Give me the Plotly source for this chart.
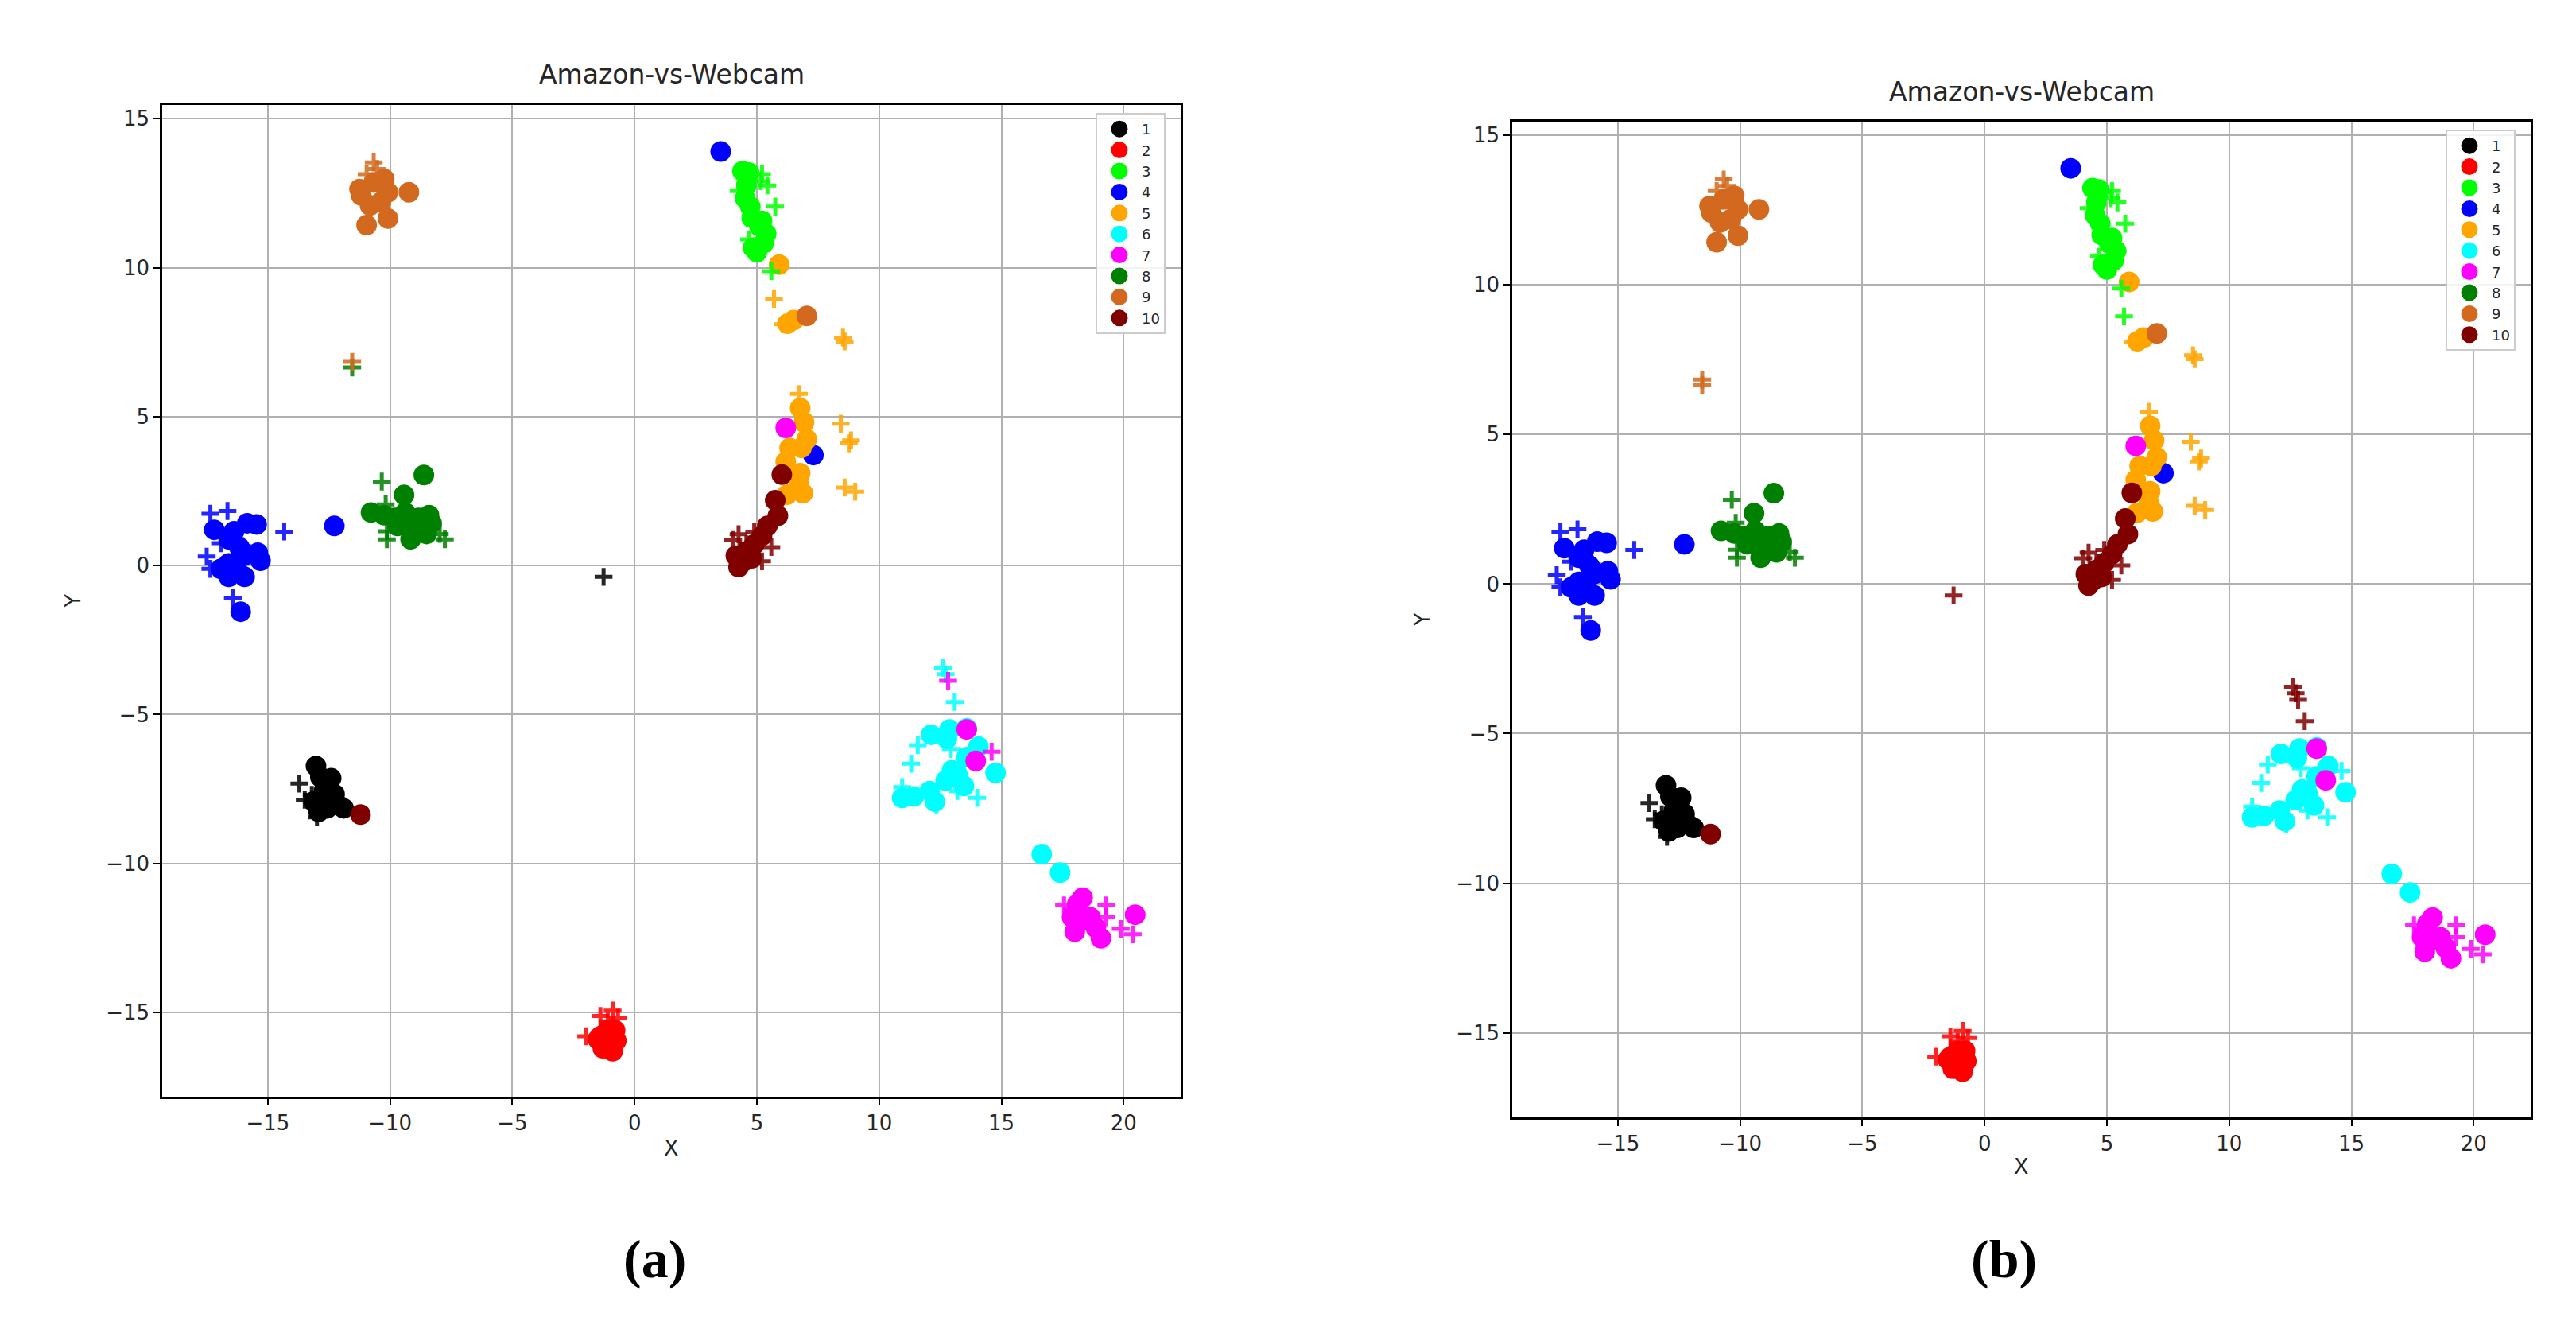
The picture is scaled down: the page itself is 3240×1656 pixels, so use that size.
import plotly.graph_objects as go

# ---------------- data ----------------
CLASSES = [1, 2, 3, 4, 5, 6, 7, 8, 9, 10]

# source-domain (Amazon) points, drawn as circles, same in both panels
src1_x = [-13.03, -12.41, -12.70, -12.12, -12.57, -13.13, -12.92, -11.90, -12.27, -12.55, -12.85]
src1_y = [-6.73, -7.14, -7.56, -8.04, -8.15, -7.92, -8.27, -8.15, -7.68, -7.40, -7.10]
src2_x = [-1.40, -1.20, -0.90, -1.00, -1.30, -0.80, -1.10, -1.50, -0.90, -1.20, -1.05, -0.75]
src2_y = [-15.80, -16.00, -15.90, -16.20, -16.20, -15.60, -15.60, -15.90, -16.30, -15.70, -16.05, -15.95]
src3_x = [4.41, 4.68, 4.57, 4.52, 4.73, 4.79, 5.11, 5.38, 5.27, 5.00, 4.84, 5.21]
src3_y = [13.24, 13.19, 12.76, 12.33, 12.05, 11.67, 11.38, 11.14, 10.81, 10.52, 10.67, 11.57]
src4_x = [-17.19, -16.60, -15.84, -15.46, -16.38, -15.41, -15.30, -15.95, -16.60, -16.60,
          -15.95, -16.92, -16.27, -16.16, -16.11, -12.28, 3.52, 7.31]
src4_y = [1.20, 0.88, 1.42, 1.38, 1.15, 0.43, 0.16, 0.34, 0.07, -0.38,
          -0.38, -0.11, -0.11, 0.61, -1.55, 1.33, 13.90, 3.71]
src5_x = [5.91, 6.50, 6.25, 6.77, 6.93, 7.04, 6.34, 6.18, 6.77, 6.72, 6.88, 6.23, 6.82]
src5_y = [10.10, 8.24, 8.12, 5.29, 4.81, 4.24, 3.95, 3.48, 3.10, 2.71, 2.43, 2.38, 3.95]
src6_x = [12.12, 12.88, 12.77, 14.06, 13.58, 12.98, 14.76, 12.72, 13.47, 12.07, 11.42,
          10.94, 12.28, 13.58, 13.20, 16.65, 17.40]
src6_y = [-5.68, -5.50, -5.81, -6.08, -6.43, -6.87, -6.96, -7.22, -7.40, -7.57, -7.75,
          -7.80, -7.93, -5.46, -7.00, -9.69, -10.31]
src7_x = [13.58, 13.95, 18.32, 18.10, 18.00, 19.07, 20.47, 18.64, 18.32, 18.86, 17.89, 6.18]
src7_y = [-5.50, -6.56, -11.15, -11.37, -12.29, -12.51, -11.72, -11.81, -11.90, -12.16, -11.81, 4.62]
src8_x = [-8.62, -9.43, -10.78, -10.24, -9.81, -9.38, -8.84, -8.41, -9.05, -8.51, -9.16, -9.70, -8.30]
src8_y = [3.04, 2.37, 1.78, 1.69, 1.60, 1.78, 1.60, 1.69, 1.24, 1.06, 0.88, 1.33, 1.42]
src9_x = [-10.96, -10.09, -9.23, -11.18, -10.67, -10.24, -10.38, -10.82, -10.09, -11.25, 7.04]
src9_y = [11.43, 11.65, 12.53, 12.42, 12.86, 12.98, 12.20, 12.09, 12.53, 12.64, 8.38]
src10_x = [6.02, 5.75, 5.86, 5.43, 5.21, 4.89, 4.57, 4.14, 4.25, 4.46, 4.79, -11.21]
src10_y = [3.05, 2.19, 1.67, 1.33, 1.00, 0.71, 0.48, 0.33, -0.05, 0.14, 0.24, -8.36]

SRC_X = [src1_x, src2_x, src3_x, src4_x, src5_x, src6_x, src7_x, src8_x, src9_x, src10_x]
SRC_Y = [src1_y, src2_y, src3_y, src4_y, src5_y, src6_y, src7_y, src8_y, src9_y, src10_y]

# target-domain (Webcam) points, drawn as '+', label in panel (a) and in panel (b)
tgt_x = [-13.71, -13.49, -12.99, -13.20, -1.27,
         -0.90, -1.40, -1.98, -0.68, -1.10,
         5.21, 5.43, 5.75, 4.25, 4.68, 5.59, 5.16,
         -17.35, -16.65, -14.33, -17.50, -17.35, -16.43, -16.92, -16.06,
         5.70, 6.07, 8.59, 8.52, 6.72, 8.43, 8.76, 8.59, 9.02, 8.85,
         12.61, 12.72, 13.09, 11.58, 11.31, 10.94, 12.93, 13.20, 14.01, 12.34,
         12.82, 14.60, 17.56, 19.29, 19.29, 19.88, 20.37, 17.89,
         -10.34, -10.13, -7.76, -7.97, -10.18, -10.13, -11.55,
         -10.67, -10.96, -10.53, -11.55,
         4.25, 4.03, 4.89, 5.59, 5.21, 4.57]
tgt_y = [-7.32, -7.86, -8.45, -7.70, -0.38,
         -14.94, -15.12, -15.80, -15.18, -15.30,
         13.14, 12.76, 12.05, 12.57, 10.95, 9.88, 12.90,
         1.74, 1.83, 1.14, 0.30, -0.11, -1.10, 0.75, 0.66,
         8.95, 8.10, 7.52, 7.65, 5.76, 4.76, 4.10, 2.62, 2.48, 4.20,
         -3.43, -3.65, -4.58, -6.03, -6.65, -7.44, -6.16, -7.57, -7.80, -8.02,
         -3.87, -6.25, -11.41, -11.41, -11.81, -12.20, -12.38, -11.54,
         2.82, 0.88, 0.88, 1.06, 2.05, 1.15, 6.65,
         13.53, 13.14, 13.31, 6.84,
         1.05, 0.86, 1.14, 0.62, 0.14, 0.71]
tgt_label_a = [1, 1, 1, 1, 1,
               2, 2, 2, 2, 2,
               3, 3, 3, 3, 3, 3, 3,
               4, 4, 4, 4, 4, 4, 4, 4,
               5, 5, 5, 5, 5, 5, 5, 5, 5, 5,
               6, 6, 6, 6, 6, 6, 6, 6, 6, 6,
               7, 7, 7, 7, 7, 7, 7, 7,
               8, 8, 8, 8, 8, 8, 8,
               9, 9, 9, 9,
               10, 10, 10, 10, 10, 10]
tgt_label_b = [1, 1, 1, 1, 10,
               2, 2, 2, 2, 2,
               3, 3, 3, 3, 3, 3, 3,
               4, 4, 4, 4, 4, 4, 4, 4,
               3, 5, 5, 5, 5, 5, 5, 5, 5, 5,
               10, 10, 10, 6, 6, 6, 6, 6, 6, 6,
               10, 6, 7, 7, 7, 7, 7, 7,
               8, 8, 8, 8, 8, 8, 9,
               9, 9, 9, 9,
               10, 10, 10, 10, 10, 10]

TITLE = "Amazon-vs-Webcam"
CAPTIONS = ["(a)", "(b)"]

# ---------------- styling ----------------
COLORS = {1: "#000000", 2: "#ff0000", 3: "#00ff00", 4: "#0000ff", 5: "#ffa500",
          6: "#00ffff", 7: "#ff00ff", 8: "#008000", 9: "#d2691e", 10: "#800000"}
W, H = 3240, 1656
FONT = "DejaVu Sans"

panels = [
    dict(xref="x", yref="y", legend="legend", labels=tgt_label_a,
         frame=(196, 1477, 124, 1371), title_y=85, xlab_y=1435, ylab_x=83, cap_x=815),
    dict(xref="x2", yref="y2", legend="legend2", labels=tgt_label_b,
         frame=(1894, 3175, 145, 1397), title_y=108, xlab_y=1458, ylab_x=1781, cap_x=2512),
]

fig = go.Figure()

for p in panels:
    # source circles
    for i, c in enumerate(CLASSES):
        fig.add_trace(go.Scatter(
            x=SRC_X[i], y=SRC_Y[i], mode="markers", name=str(c),
            xaxis=p["xref"], yaxis=p["yref"], legend=p["legend"],
            marker=dict(symbol="circle", size=21, color=COLORS[c],
                        line=dict(width=5, color=COLORS[c])),
            showlegend=True, hoverinfo="skip"))
    # target pluses
    for c in CLASSES:
        xs = [x for x, l in zip(tgt_x, p["labels"]) if l == c]
        ys = [y for y, l in zip(tgt_y, p["labels"]) if l == c]
        if not xs:
            continue
        fig.add_trace(go.Scatter(
            x=xs, y=ys, mode="markers", name=str(c),
            xaxis=p["xref"], yaxis=p["yref"], legend=p["legend"],
            marker=dict(symbol="cross-thin", size=16, color=COLORS[c], opacity=0.85,
                        line=dict(width=5, color=COLORS[c])),
            showlegend=False, hoverinfo="skip"))

axis_common = dict(showgrid=True, gridcolor="#b0b0b0", gridwidth=2, zeroline=False,
                   showline=True, mirror=True, linecolor="#000000", linewidth=2.5,
                   ticks="outside", ticklen=8, tickwidth=2, tickcolor="#000000",
                   tickfont=dict(family=FONT, size=26, color="#262626"),
                   dtick=5, tick0=0)

annotations = []
layout_axes = {}
for k, p in enumerate(panels):
    l, r, t, b = p["frame"]
    sfx = "" if k == 0 else "2"
    layout_axes["xaxis" + sfx] = dict(axis_common, domain=[l / W, r / W],
                                      range=[-19.32, 22.33], anchor="y" + sfx)
    layout_axes["yaxis" + sfx] = dict(axis_common, domain=[1 - b / H, 1 - t / H],
                                      range=[-17.83, 15.46], anchor="x" + sfx)
    cx = (l + r) / 2 / W
    annotations += [
        dict(text=TITLE, x=cx, y=1 - p["title_y"] / H, xref="paper", yref="paper",
             showarrow=False, xanchor="center", yanchor="middle",
             font=dict(family=FONT, size=33, color="#262626")),
        dict(text="X", x=cx, y=1 - p["xlab_y"] / H, xref="paper", yref="paper",
             showarrow=False, xanchor="center", yanchor="middle",
             font=dict(family=FONT, size=27, color="#262626")),
        dict(text="Y", x=p["ylab_x"] / W, y=1 - (t + b) / 2 / H, xref="paper", yref="paper",
             showarrow=False, xanchor="center", yanchor="middle", textangle=-90,
             font=dict(family=FONT, size=27, color="#262626")),
        dict(text="<b>" + CAPTIONS[k] + "</b>", x=p["cap_x"] / W, y=1 - 1575 / H,
             xref="paper", yref="paper", showarrow=False, xanchor="center", yanchor="middle",
             font=dict(family="Liberation Serif", size=68, color="#000000")),
    ]

legend_common = dict(xanchor="left", yanchor="top", bgcolor="rgba(255,255,255,0.85)",
                     bordercolor="#cccccc", borderwidth=2, itemsizing="trace", itemwidth=46,
                     font=dict(family=FONT, size=18, color="#262626"), tracegroupgap=0)

fig.update_layout(
    width=W, height=H, margin=dict(l=0, r=0, t=0, b=0),
    paper_bgcolor="white", plot_bgcolor="white",
    annotations=annotations,
    legend=dict(legend_common, x=1370 / W, y=1 - 134 / H),
    legend2=dict(legend_common, x=3068 / W, y=1 - 155 / H),
    **layout_axes,
)

fig.write_html("out.html")
